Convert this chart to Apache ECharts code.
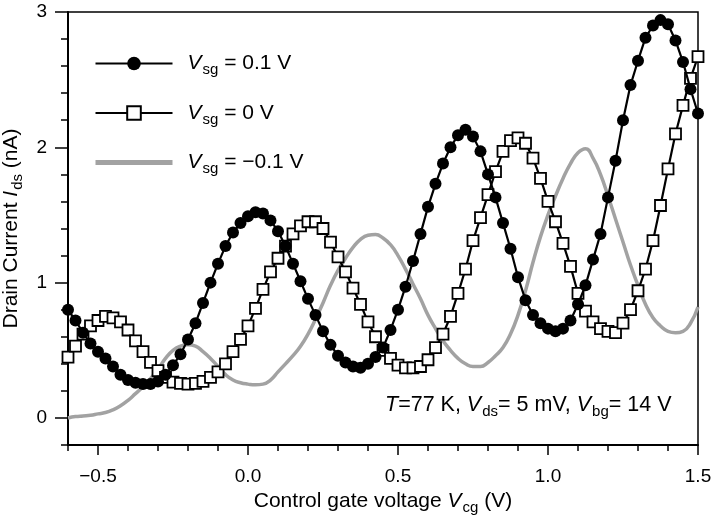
<!DOCTYPE html>
<html>
<head>
<meta charset="utf-8">
<script src="https://cdn.jsdelivr.net/npm/echarts@6/dist/echarts.min.js"></script>
<style>
  html, body { margin: 0; padding: 0; background: #fff; }
  #chart { width: 712px; height: 516px; }
</style>
</head>
<body>
<div id="chart"></div>
<script>
// control gate voltage (V), one point every 25 mV
var vcg = [-0.6, -0.575, -0.55, -0.525, -0.5, -0.475, -0.45, -0.425, -0.4, -0.375,
  -0.35, -0.325, -0.3, -0.275, -0.25, -0.225, -0.2, -0.175, -0.15, -0.125,
  -0.1, -0.075, -0.05, -0.025, 0, 0.025, 0.05, 0.075, 0.1, 0.125,
  0.15, 0.175, 0.2, 0.225, 0.25, 0.275, 0.3, 0.325, 0.35, 0.375,
  0.4, 0.425, 0.45, 0.475, 0.5, 0.525, 0.55, 0.575, 0.6, 0.625,
  0.65, 0.675, 0.7, 0.725, 0.75, 0.775, 0.8, 0.825, 0.85, 0.875,
  0.9, 0.925, 0.95, 0.975, 1.0, 1.025, 1.05, 1.075, 1.1, 1.125,
  1.15, 1.175, 1.2, 1.225, 1.25, 1.275, 1.3, 1.325, 1.35, 1.375,
  1.4, 1.425, 1.45, 1.475, 1.5];

// drain current (nA) for Vsg = 0.1 V
var idsPlus = [0.80, 0.72, 0.63, 0.55, 0.49, 0.44, 0.38, 0.32, 0.28, 0.26,
  0.25, 0.25, 0.27, 0.32, 0.39, 0.47, 0.58, 0.70, 0.85, 1.00,
  1.14, 1.27, 1.37, 1.44, 1.49, 1.52, 1.51, 1.46, 1.38, 1.27,
  1.14, 1.01, 0.88, 0.76, 0.64, 0.54, 0.46, 0.41, 0.38, 0.37,
  0.40, 0.45, 0.52, 0.65, 0.80, 0.97, 1.16, 1.36, 1.56, 1.73,
  1.88, 2.00, 2.09, 2.13, 2.08, 1.97, 1.80, 1.63, 1.44, 1.25,
  1.04, 0.87, 0.76, 0.70, 0.66, 0.64, 0.66, 0.72, 0.84, 0.98,
  1.17, 1.36, 1.63, 1.90, 2.20, 2.46, 2.64, 2.81, 2.90, 2.94,
  2.91, 2.79, 2.63, 2.43, 2.25];

// Vsg = 0 V
var idsZero = [0.45, 0.53, 0.62, 0.68, 0.72, 0.75, 0.74, 0.71, 0.65, 0.57,
  0.49, 0.41, 0.35, 0.30, 0.265, 0.255, 0.25, 0.255, 0.27, 0.30,
  0.34, 0.40, 0.49, 0.58, 0.68, 0.81, 0.95, 1.08, 1.18, 1.27,
  1.36, 1.42, 1.45, 1.45, 1.40, 1.30, 1.19, 1.08, 0.96, 0.84,
  0.71, 0.60, 0.50, 0.44, 0.39, 0.37, 0.37, 0.38, 0.43, 0.52,
  0.62, 0.75, 0.92, 1.10, 1.31, 1.48, 1.65, 1.82, 1.97, 2.05,
  2.07, 2.03, 1.92, 1.77, 1.60, 1.45, 1.29, 1.12, 0.92, 0.79,
  0.71, 0.66, 0.64, 0.63, 0.70, 0.80, 0.94, 1.10, 1.31, 1.57,
  1.84, 2.10, 2.31, 2.51, 2.67];

// Vsg = -0.1 V
var idsMinus = [0.00, 0.01, 0.015, 0.02, 0.03, 0.04, 0.06, 0.09, 0.13, 0.18,
  0.23, 0.29, 0.36, 0.44, 0.50, 0.53, 0.54, 0.53, 0.49, 0.44,
  0.38, 0.32, 0.28, 0.26, 0.25, 0.245, 0.25, 0.28, 0.34, 0.40,
  0.46, 0.53, 0.62, 0.73, 0.85, 0.98, 1.09, 1.18, 1.26, 1.32,
  1.35, 1.355, 1.33, 1.28, 1.20, 1.10, 0.99, 0.88, 0.76, 0.66,
  0.57, 0.50, 0.44, 0.40, 0.38, 0.38, 0.41, 0.46, 0.52, 0.62,
  0.76, 0.94, 1.15, 1.34, 1.50, 1.64, 1.77, 1.88, 1.96, 1.99,
  1.92, 1.80, 1.64, 1.47, 1.30, 1.13, 0.98, 0.84, 0.74, 0.68,
  0.64, 0.63, 0.64, 0.70, 0.82];

var xLabels = [-0.5, 0, 0.5, 1, 1.5];
var yLabels = [0, 1, 2, 3];

var FONT = "'Liberation Sans', Arial, Helvetica, sans-serif";

// pair x with y for the value axis
function pairs(ys) {
  var out = [];
  for (var i = 0; i < vcg.length; i++) {
    out.push([vcg[i], ys[i]]);
  }
  return out;
}

// rich text styles: italic symbol + subscript
function richStyle(size) {
  return {
    t: { fontSize: size, fontFamily: FONT, color: '#000' },
    i: { fontSize: size, fontFamily: FONT, fontStyle: 'italic', color: '#000' },
    s: { fontSize: Math.round(size * 0.7), fontFamily: FONT, color: '#000', padding: [Math.round(size * 0.6), 0, 0, 1] }
  };
}

var legendText = {
  'plus': '{g|}{i|V}{s|sg}{t| = 0.1 V}',
  'zero': '{g|}{i|V}{s|sg}{t| = 0 V}',
  'minus': '{g|}{i|V}{s|sg}{t| = \u22120.1 V}'
};

var legendRich = richStyle(21);
legendRich.g = { width: 10 };

var chart = echarts.init(document.getElementById('chart'));

var option = {
  animation: false,
  backgroundColor: '#fff',
  grid: {
    left: 68, right: 14, top: 12, bottom: 71,
    outerBoundsMode: 'none',
    show: true, borderColor: '#000', borderWidth: 1.5
  },
  legend: {
    orient: 'vertical',
    left: 88,
    top: 48,
    itemWidth: 77,
    itemHeight: 17,
    itemGap: 25,
    formatter: function(name) { return legendText[name]; },
    textStyle: { rich: legendRich },
    data: [
      { name: 'plus' },
      { name: 'zero', itemStyle: { borderWidth: 2 } },
      { name: 'minus', itemStyle: { opacity: 0 }, lineStyle: { width: 5 } }
    ]
  },
  xAxis: [
    {
      type: 'value', min: -0.6, max: 1.5, interval: 0.1,
      axisLine: { onZero: false, lineStyle: { color: '#000', width: 2 } },
      axisTick: { length: 6, lineStyle: { color: '#000', width: 1.5 } },
      axisLabel: {
        customValues: xLabels,
        margin: 22,
        fontSize: 19, fontFamily: FONT, color: '#000',
        formatter: function(v) { return v.toFixed(1).replace('-', '\u2212'); }
      },
      splitLine: { show: false },
      name: '{t|Control gate voltage }{i|V}{s|cg}{t| (V)}',
      nameLocation: 'middle',
      nameGap: 38,
      nameTextStyle: { rich: richStyle(21) }
    },
    {
      // longer ticks at the labelled values
      type: 'value', min: -0.6, max: 1.5, position: 'bottom',
      axisLine: { show: false, onZero: false },
      axisTick: { customValues: xLabels, length: 10, lineStyle: { color: '#000', width: 1.5 } },
      axisLabel: { show: false },
      splitLine: { show: false }
    }
  ],
  yAxis: [
    {
      type: 'value', min: -0.2, max: 3, interval: 0.2,
      axisLine: { show: true, onZero: false, lineStyle: { color: '#000', width: 2 } },
      axisTick: { show: true, length: 7, lineStyle: { color: '#000', width: 1.5 } },
      axisLabel: {
        customValues: yLabels,
        margin: 21,
        fontSize: 19, fontFamily: FONT, color: '#000'
      },
      splitLine: { show: false },
      name: '{t|Drain Current }{i|I}{s|ds}{t| (nA)}',
      nameLocation: 'middle',
      nameGap: 35,
      nameTextStyle: { rich: richStyle(21) }
    },
    {
      type: 'value', min: -0.2, max: 3, position: 'left',
      axisLine: { show: false, onZero: false },
      axisTick: { show: true, customValues: yLabels, length: 13, lineStyle: { color: '#000', width: 1.5 } },
      axisLabel: { show: false },
      splitLine: { show: false }
    }
  ],
  graphic: [
    {
      type: 'text',
      left: 385,
      top: 394,
      style: {
        text: '{i|T}{t|=77 K, }{i|V}{s|ds}{t|= 5 mV, }{i|V}{s|bg}{t|= 14 V}',
        rich: richStyle(21.5)
      }
    }
  ],
  series: [
    {
      name: 'minus',
      type: 'line',
      data: pairs(idsMinus),
      symbol: 'none',
      smooth: true,
      lineStyle: { color: '#a2a2a2', width: 3.5 },
      itemStyle: { color: '#a2a2a2' },
      z: 1
    },
    {
      name: 'zero',
      type: 'line',
      data: pairs(idsZero),
      symbol: 'rect',
      symbolSize: 11,
      showAllSymbol: true,
      lineStyle: { color: '#000', width: 2.2 },
      itemStyle: { color: '#fff', borderColor: '#000', borderWidth: 1.8 },
      z: 2
    },
    {
      name: 'plus',
      type: 'line',
      data: pairs(idsPlus),
      symbol: 'circle',
      symbolSize: 12,
      showAllSymbol: true,
      lineStyle: { color: '#000', width: 2.2 },
      itemStyle: { color: '#000' },
      z: 3
    }
  ]
};

chart.setOption(option);
</script>
</body>
</html>
